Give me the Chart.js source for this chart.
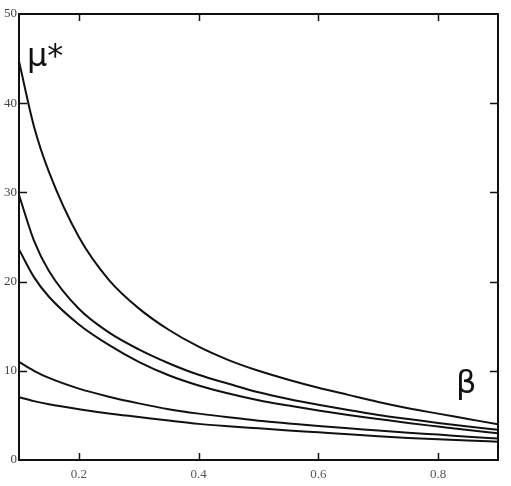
<!DOCTYPE html>
<html>
<head>
<meta charset="utf-8">
<script src="https://cdn.jsdelivr.net/npm/chart.js@4"></script>
<style>
  html, body { margin: 0; padding: 0; background: #fff; }
  #wrap { width: 511px; height: 486px; }
</style>
</head>
<body>
<div id="wrap"><canvas id="mu-chart"></canvas></div>
<script>
var beta = [0.1, 0.125, 0.15, 0.2, 0.25, 0.3, 0.35, 0.4, 0.45, 0.5, 0.55, 0.6, 0.65, 0.7, 0.75, 0.8, 0.85, 0.9];

// mu* for the five curves, top to bottom
var curve1 = [44.7, 37.4, 32.3, 25.0, 20.2, 17.0, 14.6, 12.7, 11.2, 10.0, 9.0, 8.1, 7.3, 6.5, 5.8, 5.2, 4.6, 4.0];
var curve2 = [29.7, 24.6, 21.2, 16.95, 14.3, 12.4, 10.85, 9.55, 8.55, 7.6, 6.85, 6.2, 5.6, 5.05, 4.6, 4.15, 3.75, 3.4];
var curve3 = [23.6, 20.5, 18.3, 15.2, 12.9, 11.0, 9.5, 8.35, 7.45, 6.7, 6.1, 5.55, 5.05, 4.6, 4.15, 3.75, 3.35, 3.0];
var curve4 = [11.0, 10.0, 9.2, 8.0, 7.1, 6.35, 5.7, 5.2, 4.78, 4.4, 4.1, 3.8, 3.55, 3.3, 3.05, 2.85, 2.6, 2.4];
var curve5 = [7.05, 6.6, 6.25, 5.7, 5.22, 4.82, 4.42, 4.05, 3.78, 3.55, 3.32, 3.1, 2.88, 2.67, 2.48, 2.32, 2.18, 2.05];

var xTicks = [0.1, 0.2, 0.4, 0.6, 0.8, 0.9];
var xTickLabels = ["", "0.2", "0.4", "0.6", "0.8", ""];
var yTicks = [0, 10, 20, 30, 40, 50];

var curves = [curve1, curve2, curve3, curve4, curve5];

function toPoints(vals) {
  var pts = [];
  for (var i = 0; i < beta.length; i++) {
    pts.push({ x: beta[i], y: vals[i] });
  }
  return pts;
}

var datasets = curves.map(function(c) {
  return {
    data: toPoints(c),
    showLine: true,
    borderColor: "#111",
    borderWidth: 2,
    pointRadius: 0,
    fill: false,
    cubicInterpolationMode: "monotone"
  };
});

// frame, inward tick marks and the two axis symbols
var framePlugin = {
  id: "frame",
  afterDraw: function(chart) {
    var ctx = chart.ctx;
    var a = chart.chartArea;
    var xs = chart.scales.x, ys = chart.scales.y;
    ctx.save();
    ctx.strokeStyle = "#111";
    ctx.lineWidth = 2;
    ctx.strokeRect(a.left, a.top, a.right - a.left, a.bottom - a.top);

    ctx.lineWidth = 1.5;
    ctx.beginPath();
    xTicks.forEach(function(v) {
      if (v <= xs.min || v >= xs.max) return;
      var px = Math.round(xs.getPixelForValue(v)) + 0.5;
      ctx.moveTo(px, a.bottom); ctx.lineTo(px, a.bottom - 7);
      ctx.moveTo(px, a.top); ctx.lineTo(px, a.top + 7);
    });
    yTicks.forEach(function(v) {
      if (v <= ys.min || v >= ys.max) return;
      var py = Math.round(ys.getPixelForValue(v)) + 0.5;
      ctx.moveTo(a.left, py); ctx.lineTo(a.left + 8, py);
      ctx.moveTo(a.right, py); ctx.lineTo(a.right - 8, py);
    });
    ctx.stroke();

    ctx.fillStyle = "#111";
    ctx.font = "32px 'DejaVu Sans'";
    ctx.textBaseline = "alphabetic";
    ctx.textAlign = "left";
    ctx.fillText("\u03bc*", a.left + 8, a.top + 52);
    ctx.fillText("\u03b2", 456, 393);
    ctx.restore();
  }
};

var ctx = document.getElementById("mu-chart");

var chart = new Chart(ctx, {
  type: "scatter",
  data: { datasets: datasets },
  options: {
    responsive: true,
    maintainAspectRatio: false,
    animation: false,
    layout: { padding: { top: 14, right: 13, left: 0, bottom: 0 } },
    plugins: { legend: { display: false }, tooltip: { enabled: false } },
    scales: {
      x: {
        type: "linear",
        min: 0.1,
        max: 0.9,
        afterBuildTicks: function(scale) {
          scale.ticks = xTicks.map(function(v) { return { value: v }; });
        },
        afterFit: function(scale) { scale.height = 26; },
        grid: { display: false, drawTicks: false },
        border: { display: false },
        ticks: {
          autoSkip: false,
          maxRotation: 0,
          padding: 7,
          color: "#555",
          font: { family: "'Liberation Serif'", size: 13 },
          callback: function(v, i) { return xTickLabels[i]; }
        }
      },
      y: {
        min: 0,
        max: 50,
        afterBuildTicks: function(scale) {
          scale.ticks = yTicks.map(function(v) { return { value: v }; });
        },
        afterFit: function(scale) { scale.width = 19; },
        grid: { display: false, drawTicks: false },
        border: { display: false },
        ticks: {
          padding: 2,
          color: "#444",
          font: { family: "'Liberation Serif'", size: 13 }
        }
      }
    }
  },
  plugins: [framePlugin]
});
</script>
</body>
</html>
